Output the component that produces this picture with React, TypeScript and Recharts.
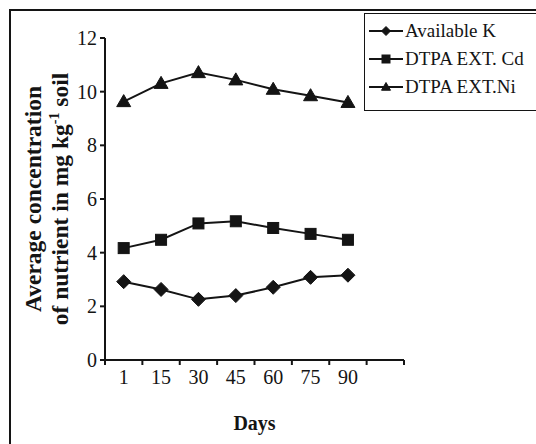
import React from 'react';
import { LineChart, Line, XAxis, YAxis, Legend, Label } from 'recharts';

const days = ['1', '15', '30', '45', '60', '75', '90'];
const availableK = [2.92, 2.63, 2.26, 2.4, 2.71, 3.08, 3.16];
const dtpaCd = [4.17, 4.48, 5.09, 5.17, 4.92, 4.7, 4.48];
const dtpaNi = [9.63, 10.31, 10.71, 10.44, 10.09, 9.85, 9.6];
const yTicks = [0, 2, 4, 6, 8, 10, 12];
// one extra empty slot on the right, like the original
const slotCount = 8;
const xTicks = Array.from({ length: slotCount + 1 }, (_, i) => i);

const ink = '#141414';
const serif = '"Liberation Serif", "Times New Roman", serif';

const chartData = days.map((day, i) => ({
    pos: i + 0.5,
    day,
    k: availableK[i],
    cd: dtpaCd[i],
    ni: dtpaNi[i],
}));

// recharts hands its own `r` to dots, so the marker size goes in `size`
const Diamond = ({ cx, cy, size = 7 }: any) => (
    <polygon points={`${cx},${cy - size} ${cx + size},${cy} ${cx},${cy + size} ${cx - size},${cy}`} fill={ink} stroke={ink} strokeWidth={1} />
);

const Square = ({ cx, cy, size = 5.5 }: any) => (
    <rect x={cx - size} y={cy - size} width={size * 2} height={size * 2} fill={ink} stroke={ink} strokeWidth={1} />
);

const Triangle = ({ cx, cy, size = 7 }: any) => (
    <polygon points={`${cx},${cy - size} ${cx + size},${cy + size * 0.72} ${cx - size},${cy + size * 0.72}`} fill={ink} stroke={ink} strokeWidth={1} />
);

const markerFor: Record<string, any> = { k: Diamond, cd: Square, ni: Triangle };

const DayTick = (props: any) => {
    const { x, y, payload, width } = props;
    const label = days[payload.value];
    if (!label) return <g />;
    const half = width / slotCount / 2;
    return (
        <text x={x + half} y={y} dy={15} textAnchor="middle" fontFamily={serif} fontSize={20} fill={ink}>
            {label}
        </text>
    );
};

const YTitle = (props: any) => {
    const { viewBox } = props;
    const cy = viewBox.y + viewBox.height / 2;
    return (
        <g fontFamily={serif} fontSize={23.5} fontWeight="bold" fill={ink} textAnchor="middle">
            <text transform={`translate(41, ${cy}) rotate(-90)`}>Average concentration</text>
            <text transform={`translate(68, ${cy}) rotate(-90)`}>
                of nutrient in mg kg<tspan dy={-9} fontSize={14}>-1</tspan>
                <tspan dy={9}> soil</tspan>
            </text>
        </g>
    );
};

const LegendBox = (props: any) => {
    const { payload } = props;
    return (
        <div style={{ border: `1.5px solid ${ink}`, padding: '3px 0 9px 3px', background: '#fff', width: 240 }}>
            {payload.map((entry: any) => {
                const Marker = markerFor[entry.dataKey];
                return (
                    <div key={entry.dataKey} style={{ display: 'flex', alignItems: 'center', height: 28 }}>
                        <svg width={36} height={28} style={{ display: 'block' }}>
                            <line x1={1} y1={14} x2={35} y2={14} stroke={ink} strokeWidth={2} />
                            <Marker cx={18} cy={14} size={entry.dataKey === 'cd' ? 4 : 4.5} />
                        </svg>
                        <span style={{ fontFamily: serif, fontSize: 19, color: ink, marginLeft: 1, whiteSpace: 'nowrap' }}>
                            {entry.value}
                        </span>
                    </div>
                );
            })}
        </div>
    );
};

export default function App() {
    return (
        <div style={{ position: 'fixed', left: 0, top: 0, width: 536, height: 444, overflow: 'hidden', background: '#fff' }}>
            <div style={{ position: 'absolute', left: 9, top: 9, width: 600, height: 500, border: `2px solid ${ink}` }} />
            <div style={{ position: 'absolute', left: 0, top: 0 }}>
                <LineChart width={536} height={444} data={chartData} margin={{ top: 38, right: 132, bottom: 0, left: 0 }}>
                    <XAxis
                        dataKey="pos"
                        type="number"
                        domain={[0, slotCount]}
                        ticks={xTicks}
                        interval={0}
                        height={84}
                        tickSize={5}
                        tickMargin={4}
                        tick={<DayTick />}
                        axisLine={{ stroke: ink, strokeWidth: 2 }}
                        tickLine={{ stroke: ink, strokeWidth: 2 }}
                    >
                        <Label value="Days" position="insideBottom" offset={14} fontFamily={serif} fontSize={20} fontWeight="bold" fill={ink} />
                    </XAxis>
                    <YAxis
                        domain={[0, 12]}
                        ticks={yTicks}
                        width={105}
                        tickSize={5}
                        tickMargin={3}
                        tick={{ fontFamily: serif, fontSize: 20, fill: ink }}
                        axisLine={{ stroke: ink, strokeWidth: 2 }}
                        tickLine={{ stroke: ink, strokeWidth: 2 }}
                    >
                        <Label content={<YTitle />} />
                    </YAxis>
                    <Legend
                        layout="horizontal"
                        verticalAlign="middle"
                        align="center"
                        content={<LegendBox />}
                        wrapperStyle={{ top: 13, left: 364, width: 240 }}
                    />
                    <Line dataKey="k" name="Available K" stroke={ink} strokeWidth={2} dot={<Diamond />} isAnimationActive={false} />
                    <Line dataKey="cd" name="DTPA EXT. Cd" stroke={ink} strokeWidth={2} dot={<Square />} isAnimationActive={false} />
                    <Line dataKey="ni" name="DTPA EXT.Ni" stroke={ink} strokeWidth={2} dot={<Triangle />} isAnimationActive={false} />
                </LineChart>
            </div>
        </div>
    );
}
